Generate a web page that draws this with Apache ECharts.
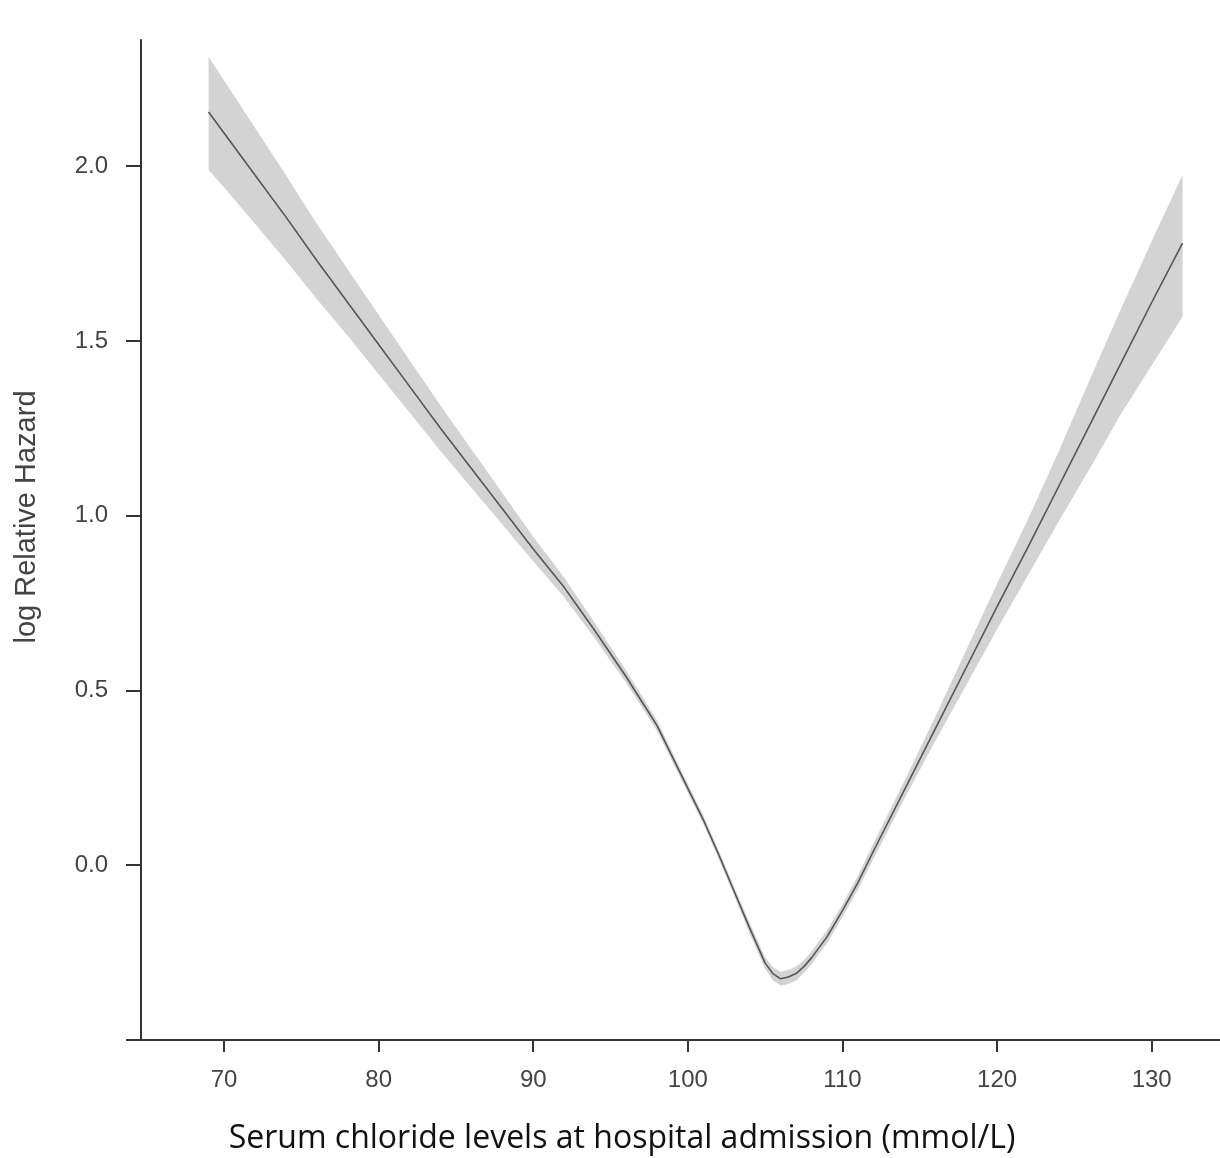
<!DOCTYPE html>
<html>
<head>
<meta charset="utf-8">
<title>log Relative Hazard vs serum chloride</title>
<script src="https://cdn.jsdelivr.net/npm/echarts@6/dist/echarts.min.js"></script>
<style>
    html, body { margin: 0; padding: 0; background: #fff; }
    #chart { width: 1220px; height: 1158px; }
</style>
</head>
<body>
<div id="chart"></div>
<script>
// Serum chloride (mmol/L)
const chloride = [69, 70, 72, 74, 76, 78, 80, 82, 84, 86, 88, 90, 92, 94, 96, 97, 98, 99, 100, 101, 102, 103, 104, 105, 105.5, 106, 106.5, 107, 107.5, 108, 109, 110, 111, 112, 114, 116, 118, 120, 122, 124, 126, 128, 130, 132];

// log relative hazard (fit)
const logHazard = [2.155, 2.095, 1.975, 1.855, 1.73, 1.61, 1.49, 1.37, 1.25, 1.135, 1.02, 0.905, 0.795, 0.67, 0.54, 0.47, 0.40, 0.31, 0.22, 0.13, 0.03, -0.075, -0.18, -0.28, -0.31, -0.325, -0.32, -0.31, -0.29, -0.265, -0.205, -0.13, -0.05, 0.04, 0.215, 0.39, 0.565, 0.74, 0.91, 1.085, 1.26, 1.435, 1.61, 1.78];

// 95% CI bounds
const upperCI = [2.313, 2.245, 2.11, 1.975, 1.835, 1.705, 1.575, 1.445, 1.315, 1.19, 1.065, 0.94, 0.823, 0.692, 0.558, 0.486, 0.415, 0.324, 0.233, 0.142, 0.042, -0.062, -0.165, -0.263, -0.292, -0.305, -0.30, -0.29, -0.272, -0.247, -0.187, -0.112, -0.03, 0.062, 0.24, 0.425, 0.615, 0.805, 0.99, 1.185, 1.39, 1.59, 1.785, 1.975];
const lowerCI = [1.989, 1.94, 1.835, 1.73, 1.62, 1.515, 1.405, 1.295, 1.185, 1.08, 0.975, 0.87, 0.767, 0.648, 0.522, 0.454, 0.385, 0.296, 0.207, 0.118, 0.018, -0.088, -0.195, -0.297, -0.328, -0.345, -0.34, -0.33, -0.308, -0.283, -0.223, -0.148, -0.07, 0.018, 0.19, 0.355, 0.515, 0.675, 0.83, 0.985, 1.135, 1.29, 1.43, 1.57];

// tick labels
const xTicks = [70, 80, 90, 100, 110, 120, 130];
const yTicks = [0, 0.5, 1, 1.5, 2];

const AXIS_COLOR = '#333';
const LABEL_COLOR = '#444';

const pairs = ys => chloride.map((x, i) => [x, ys[i]]);
const bandData = chloride.map((x, i) => [x, lowerCI[i], upperCI[i]]);

// whole CI band as one polygon, mapped through the axes
function renderBand(params, api) {
    if (params.dataIndex !== 0) return null;
    const top = chloride.map((x, i) => api.coord([x, upperCI[i]]));
    const bottom = chloride.map((x, i) => api.coord([x, lowerCI[i]])).reverse();
    return {
        type: 'polygon',
        shape: { points: top.concat(bottom) },
        style: { fill: '#d3d3d3', stroke: null },
        silent: true
    };
}

const chart = echarts.init(document.getElementById('chart'), null, { renderer: 'canvas' });

chart.setOption({
    animation: false,
    backgroundColor: '#fff',
    grid: { left: 141, right: 0, top: 40, bottom: 118, containLabel: false },
    xAxis: {
        type: 'value',
        min: 64.63,
        max: 134.42,
        splitLine: { show: false },
        axisLine: { onZero: false, lineStyle: { color: AXIS_COLOR, width: 2 } },
        axisTick: { length: 12, customValues: xTicks, lineStyle: { color: AXIS_COLOR, width: 2 } },
        axisLabel: {
            customValues: xTicks,
            margin: 28,
            color: LABEL_COLOR,
            fontSize: 24,
            fontFamily: 'Liberation Sans, Arial, sans-serif'
        }
    },
    yAxis: {
        type: 'value',
        min: -0.5,
        max: 2.361,
        splitLine: { show: false },
        axisLine: { onZero: false, lineStyle: { color: AXIS_COLOR, width: 2 } },
        axisTick: { length: 15, customValues: [-0.5].concat(yTicks), lineStyle: { color: AXIS_COLOR, width: 2 } },
        axisLabel: {
            customValues: yTicks,
            margin: 33,
            color: LABEL_COLOR,
            fontSize: 24,
            fontFamily: 'Liberation Sans, Arial, sans-serif',
            formatter: v => v.toFixed(1)
        }
    },
    graphic: [
        {
            type: 'text',
            x: 27,
            y: 517,
            rotation: Math.PI / 2,
            style: {
                text: 'log Relative Hazard',
                fill: LABEL_COLOR,
                font: '29px "Liberation Sans", Arial, sans-serif',
                textAlign: 'center',
                textVerticalAlign: 'middle'
            }
        },
        {
            type: 'text',
            x: 622,
            y: 1139,
            style: {
                text: 'Serum chloride levels at hospital admission (mmol/L)',
                fill: '#111',
                font: '32px "Open Sans", sans-serif',
                textAlign: 'center',
                textVerticalAlign: 'middle'
            }
        }
    ],
    series: [
        {
            name: 'band',
            type: 'custom',
            renderItem: renderBand,
            data: bandData,
            encode: { x: 0, y: [1, 2] },
            silent: true,
            z: 1
        },
        {
            name: 'fit',
            type: 'line',
            data: pairs(logHazard),
            symbol: 'none',
            lineStyle: { color: '#555', width: 1.6 },
            z: 3
        }
    ]
});
</script>
</body>
</html>
